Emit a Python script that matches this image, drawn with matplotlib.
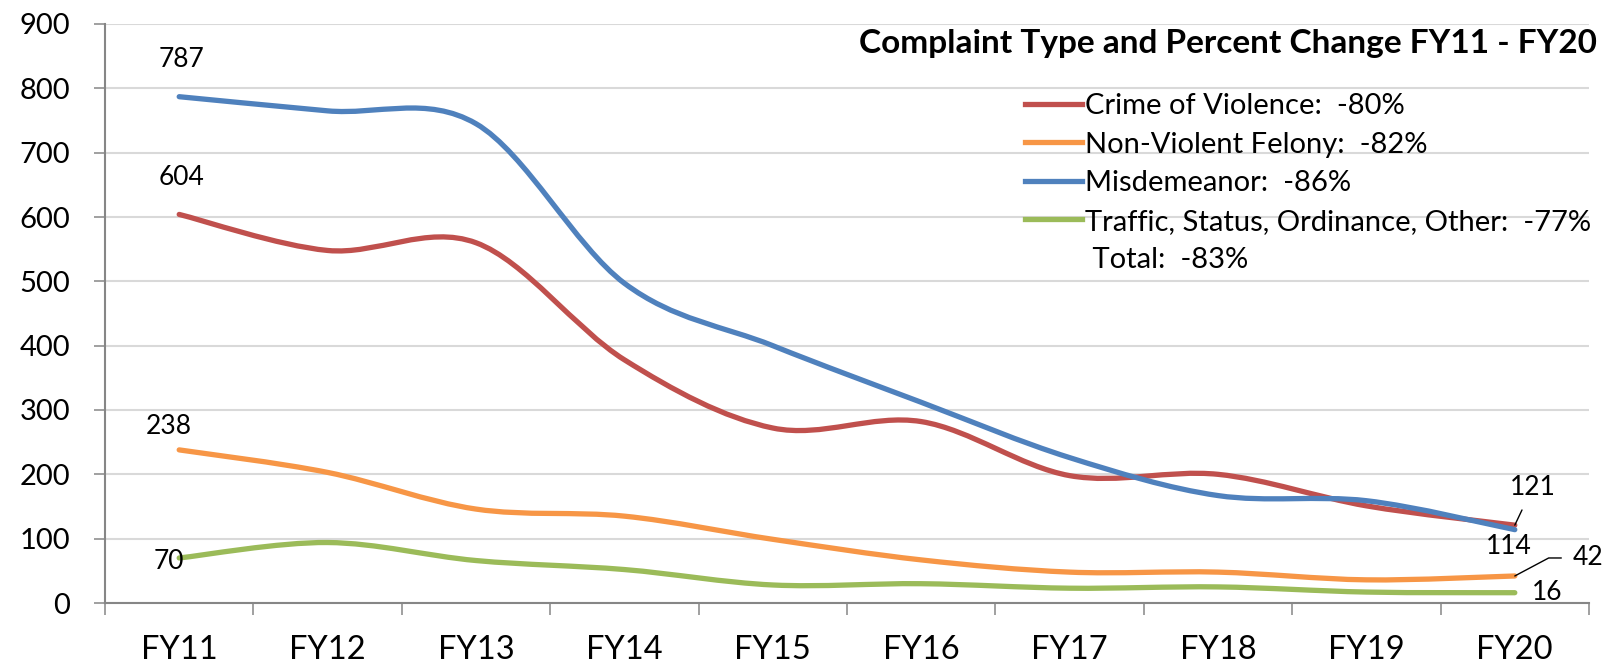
import numpy as np
import matplotlib
matplotlib.use("Agg")
import matplotlib.pyplot as plt
from matplotlib.path import Path
from matplotlib.patches import PathPatch
from matplotlib.lines import Line2D

plt.rcParams['font.family'] = ['Lato', 'DejaVu Sans']

years = ['FY11', 'FY12', 'FY13', 'FY14', 'FY15', 'FY16', 'FY17', 'FY18', 'FY19', 'FY20']
crime = [604, 548, 560, 378, 272, 282, 198, 200, 151, 121]
felony = [238, 203, 146, 135, 99, 67, 48, 48, 36, 42]
misd = [787, 765, 745, 497, 400, 312, 226, 167, 159, 114]
traffic = [70, 94, 66, 52, 28, 30, 23, 25, 17, 16]

names = ['Crime of Violence:  -80%', 'Non-Violent Felony:  -82%',
         'Misdemeanor:  -86%', 'Traffic, Status, Ordinance, Other:  -77%']
total_txt = ' Total:  -83%'
title = 'Complaint Type and Percent Change FY11 - FY20'
colors = ['#C0504D', '#F79646', '#4F81BD', '#9BBB59']


def smooth_path(vals):
    # excel style smoothed line: bezier through every point
    pts = np.column_stack([np.arange(len(vals)), vals]).astype(float)
    n = len(pts)
    verts = [pts[0]]
    codes = [Path.MOVETO]
    for i in range(n - 1):
        p0 = pts[max(i - 1, 0)]
        p1 = pts[i]
        p2 = pts[i + 1]
        p3 = pts[min(i + 2, n - 1)]
        verts += [p1 + (p2 - p0) / 6, p2 - (p3 - p1) / 6, p2]
        codes += [Path.CURVE4] * 3
    return Path(verts, codes)


fig = plt.figure(figsize=(16.16, 6.64), dpi=100)
ax = fig.add_axes([105 / 1616, 61 / 664, 1484 / 1616, 579 / 664])

lw = 3.8
for vals, c in zip([crime, felony, misd, traffic], colors):
    ax.add_patch(PathPatch(smooth_path(vals), fill=False, edgecolor=c, lw=lw,
                           capstyle='round', joinstyle='round'))

ax.set_xlim(-0.5, len(years) - 0.5)
ax.set_ylim(0, 900)
ax.set_yticks(np.arange(0, 901, 100))
ax.yaxis.grid(True, color='#D9D9D9', lw=1.5)
ax.set_axisbelow(True)

ax.set_xticks(np.arange(-0.5, len(years), 1))
ax.set_xticklabels([])
ax.set_xticks(np.arange(len(years)), minor=True)
ax.set_xticklabels(years, minor=True)
ax.tick_params(axis='x', which='major', length=8.5, width=1.1, color='#868686')
ax.tick_params(axis='x', which='minor', length=0, pad=23, labelsize=23.5)
ax.tick_params(axis='y', length=8, width=1.1, color='#868686', pad=17, labelsize=21)

for s in ['top', 'right']:
    ax.spines[s].set_visible(False)
for s in ['left', 'bottom']:
    ax.spines[s].set_color('#868686')
    ax.spines[s].set_linewidth(1.5)

# data labels
lab_kw = dict(textcoords='offset pixels', ha='center', va='center', fontsize=19)
ax.annotate(str(misd[0]), (0, misd[0]), xytext=(2, 37), **lab_kw)
ax.annotate(str(crime[0]), (0, crime[0]), xytext=(2, 37), **lab_kw)
ax.annotate(str(felony[0]), (0, felony[0]), xytext=(-10, 23), **lab_kw)
ax.annotate(str(traffic[0]), (0, traffic[0]), xytext=(-10, -4), **lab_kw)
last = len(years) - 1
ax.annotate(str(crime[-1]), (last, crime[-1]), xytext=(18, 38),
            arrowprops=dict(arrowstyle='-', color='black', lw=1, shrinkA=6, shrinkB=0),
            **lab_kw)
ax.annotate(str(misd[-1]), (last, misd[-1]), xytext=(-6, -17), **lab_kw)
ax.annotate(str(felony[-1]), (last, felony[-1]), xytext=(73, 18),
            arrowprops=dict(arrowstyle='-', color='black', lw=1, shrinkA=6, shrinkB=0,
                            connectionstyle='angle,angleA=0,angleB=28,rad=0'),
            **lab_kw)
ax.annotate(str(traffic[-1]), (last, traffic[-1]), xytext=(32, 0), **lab_kw)

# legend
fig.text(1597 / 1616, 1 - 43 / 664, title, ha='right', va='center',
         fontsize=24, fontweight='bold')
handles = [Line2D([], [], color=c, lw=lw) for c in colors]
handles.append(Line2D([], [], color='none', lw=0))
fig.legend(handles, names + [total_txt], loc='upper left',
           bbox_to_anchor=(1025 / 1616, 1 - 93 / 664), bbox_transform=fig.transFigure,
           frameon=False, borderaxespad=0, borderpad=0, fontsize=21,
           handlelength=1.95, handletextpad=0.12, labelspacing=0.43)

plt.savefig('out.png', dpi=100)
